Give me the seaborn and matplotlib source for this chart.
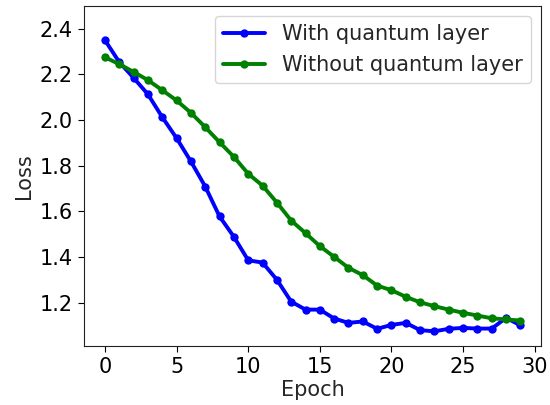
import matplotlib
matplotlib.use('Agg')
import matplotlib.pyplot as plt
import pandas as pd
import seaborn as sns

# values
epochs = list(range(30))
loss_quantum = [2.349, 2.253, 2.184, 2.112, 2.012, 1.920, 1.818, 1.708, 1.577, 1.488,
                1.385, 1.375, 1.300, 1.204, 1.169, 1.169, 1.130, 1.111, 1.117, 1.085,
                1.102, 1.111, 1.079, 1.074, 1.085, 1.089, 1.086, 1.086, 1.133, 1.100]
loss_classic = [2.274, 2.244, 2.210, 2.174, 2.130, 2.085, 2.031, 1.968, 1.902, 1.838,
                1.764, 1.712, 1.638, 1.559, 1.504, 1.447, 1.400, 1.352, 1.320, 1.274,
                1.254, 1.225, 1.201, 1.184, 1.169, 1.155, 1.143, 1.131, 1.126, 1.121]
series_names = ['With quantum layer', 'Without quantum layer']

df = pd.DataFrame({
    'Epoch': epochs * 2,
    'Loss': loss_quantum + loss_classic,
    'model': [series_names[0]] * 30 + [series_names[1]] * 30,
})

sns.set_style('ticks')
plt.rcParams['font.family'] = ['DejaVu Sans']

fig, ax = plt.subplots(figsize=(5.5, 4.05), dpi=100)
fig.subplots_adjust(left=0.153, right=0.984, bottom=0.146, top=0.986)

sns.lineplot(data=df, x='Epoch', y='Loss', hue='model', hue_order=series_names,
             palette=['blue', 'green'], marker='o', markersize=6, markeredgewidth=0,
             linewidth=2.8, ax=ax)

fs = 15
ax.set_ylim(None, 2.5)
ax.set_xticks([0, 5, 10, 15, 20, 25, 30])
ax.set_yticks([1.2, 1.4, 1.6, 1.8, 2.0, 2.2, 2.4])
ax.tick_params(labelsize=fs, colors='black', length=4.5)
for s in ax.spines.values():
    s.set_color('#222222')
ax.set_xlabel('Epoch', fontsize=fs, labelpad=2)
ax.set_ylabel('Loss', fontsize=fs, labelpad=4)
ax.legend(title=None, loc='upper right', fontsize=fs)

fig.savefig('out.png', dpi=100)
